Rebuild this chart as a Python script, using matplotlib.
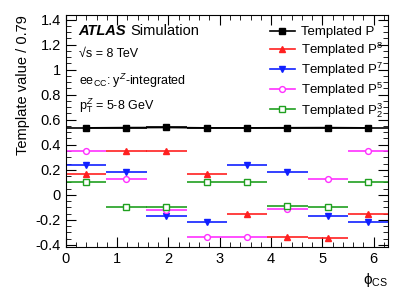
import numpy as np
import matplotlib.pyplot as plt
from matplotlib.ticker import MultipleLocator
from matplotlib.lines import Line2D

plt.rcParams['font.family'] = ['Liberation Sans', 'DejaVu Sans']
plt.rcParams['mathtext.fontset'] = 'custom'
plt.rcParams['mathtext.rm'] = 'Liberation Sans'
plt.rcParams['mathtext.it'] = 'Liberation Sans:italic'

# bin centres in phi_CS (8 bins over 0..2pi)
phi_centres = [0.39, 1.18, 1.96, 2.75, 3.53, 4.32, 5.11, 5.89]
half_width = np.pi / 8

p0 = [0.535, 0.537, 0.538, 0.535, 0.535, 0.536, 0.537, 0.535]
p8 = [0.17, 0.35, 0.35, 0.17, -0.155, -0.34, -0.345, -0.155]
p7 = [0.235, 0.18, -0.17, -0.22, 0.235, 0.184, -0.17, -0.22]
p5 = [0.35, 0.13, -0.12, -0.34, -0.34, -0.117, 0.13, 0.35]
p3 = [0.10, -0.096, -0.096, 0.10, 0.10, -0.093, -0.096, 0.10]

series = [
    (p0, 'black', 's', 'black', 'Templated P'),
    (p8, '#ff2020', '^', '#ff2020', 'Templated P$^{8}$'),
    (p7, '#1020ff', 'v', '#1020ff', 'Templated P$^{7}$'),
    (p5, '#ff30ff', 'o', 'white', 'Templated P$^{5}$'),
    (p3, '#20a020', 's', 'white', 'Templated P$^{3}_{2}$'),
]

fig = plt.figure(figsize=(4.09, 2.94), dpi=100)
ax = fig.add_axes([0.161, 0.161, 0.788, 0.789])

handles = []
for vals, col, mk, face, lab in series:
    ax.errorbar(phi_centres, vals, xerr=half_width, fmt=mk, color=col,
                mfc=face, mec=col, ms=4.2, elinewidth=1.2, capsize=0,
                mew=1.0)
    handles.append(Line2D([], [], color=col, marker=mk, mfc=face, mec=col,
                          ms=4.2, lw=1.2, label=lab))
# black points joined as a line
ax.plot(phi_centres, p0, color='black', lw=1.2)

ax.set_xlim(0, 2 * np.pi)
ax.set_ylim(-0.415, 1.44)
ax.xaxis.set_major_locator(MultipleLocator(1))
ax.xaxis.set_minor_locator(MultipleLocator(0.2))
ax.yaxis.set_major_locator(MultipleLocator(0.2))
ax.yaxis.set_minor_locator(MultipleLocator(0.05))
ax.tick_params(which='both', direction='in', top=True, right=True,
               labelsize=10.5)
ax.tick_params(which='major', length=7)
ax.tick_params(which='minor', length=3.5)
ax.set_yticks(np.arange(-0.4, 1.41, 0.2))
ax.set_yticklabels(['-0.4', '-0.2', '0', '0.2', '0.4', '0.6', '0.8', '1',
                    '1.2', '1.4'])

ax.set_ylabel('Template value / 0.79', fontsize=10.5, loc='top')
ax.set_xlabel('ϕ$_{\\mathrm{CS}}$', fontsize=11, loc='right')

ax.text(0.04, 0.93, 'ATLAS', transform=ax.transAxes, fontsize=10.5,
        fontweight='bold', style='italic', va='center')
ax.text(0.20, 0.93, 'Simulation', transform=ax.transAxes, fontsize=10.5,
        va='center')
ax.text(0.04, 0.83, '√s = 8 TeV', transform=ax.transAxes,
        fontsize=9, va='center')
ax.text(0.04, 0.715, r'ee$_{\mathrm{CC}}$: y$^{Z}$-integrated',
        transform=ax.transAxes, fontsize=9, va='center')
ax.text(0.04, 0.61, r'p$_{\mathrm{T}}^{Z}$ = 5-8 GeV',
        transform=ax.transAxes, fontsize=9, va='center')

ax.legend(handles=handles, loc='upper right', bbox_to_anchor=(1.01, 0.985),
          frameon=False, fontsize=9.5, handlelength=1.9, handletextpad=0.5,
          labelspacing=0.15, borderaxespad=0.2)

fig.savefig('out.png', dpi=100)
